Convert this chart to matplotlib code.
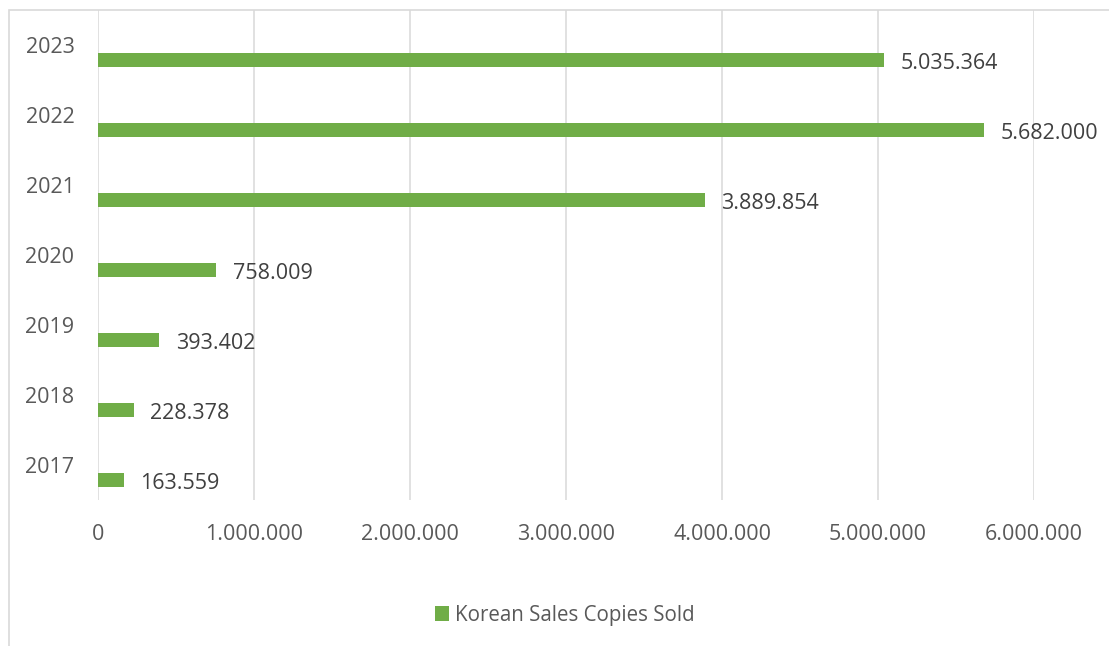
import matplotlib
matplotlib.use("Agg")
import matplotlib.pyplot as plt
from matplotlib.patches import Rectangle, Patch
from matplotlib.ticker import FuncFormatter

years = ["2017", "2018", "2019", "2020", "2021", "2022", "2023"]
copies_sold = [163559, 228378, 393402, 758009, 3889854, 5682000, 5035364]
series_name = "Korean Sales Copies Sold"
x_ticks = [0, 1000000, 2000000, 3000000, 4000000, 5000000, 6000000]

BAR_COLOR = "#70AD47"
GRID_COLOR = "#D9D9D9"
TICK_COLOR = "#595959"
LABEL_COLOR = "#404040"
FONT = ["Open Sans", "DejaVu Sans"]

plt.rcParams["font.family"] = FONT


def dotted(v, _pos=None):
    return f"{int(round(v)):,}".replace(",", ".")


W, H = 1109, 646
fig = plt.figure(figsize=(W / 100, H / 100), dpi=100)
fig.patch.set_facecolor("white")

# Chart-area frame (extends past right and bottom edges)
fig.patches.append(Rectangle((9 / W, -0.1), 1.2, 1 - 10 / H + 0.1,
                             transform=fig.transFigure, fill=False,
                             edgecolor="#D9D9D9", linewidth=1.2))

ax = fig.add_axes([98 / W, 1 - 500 / H, (1034 - 98) / W, (500 - 10) / H])

positions = list(range(len(years)))
bar_pos = [p - 0.214 for p in positions]
ax.barh(bar_pos, copies_sold, height=0.2, color=BAR_COLOR, zorder=3)

for y, v in zip(bar_pos, copies_sold):
    ax.annotate(dotted(v), xy=(v, y), xytext=(12, -2.2), textcoords="offset points",
                ha="left", va="center", fontsize=15.5, color=LABEL_COLOR)

ax.set_xlim(0, 6000000)
ax.set_ylim(-0.5, len(years) - 0.5)
ax.set_xticks(x_ticks)
ax.xaxis.set_major_formatter(FuncFormatter(dotted))
ax.set_yticks(positions)
ax.set_yticklabels(years)

ax.grid(axis="x", color=GRID_COLOR, linewidth=1.1, zorder=0)
ax.grid(axis="y", visible=False)
for s in ax.spines.values():
    s.set_visible(False)
ax.tick_params(axis="both", length=0, labelsize=15.5, labelcolor=TICK_COLOR)
ax.tick_params(axis="x", pad=17.5)
ax.tick_params(axis="y", pad=17)

handle = Patch(facecolor=BAR_COLOR, edgecolor="none")
fig.legend([handle], [series_name], loc="center",
           bbox_to_anchor=(565 / W, 1 - 615 / H), frameon=False,
           fontsize=14.8, labelcolor=TICK_COLOR, handlelength=0.7,
           handleheight=0.7, handletextpad=0.3)

fig.savefig("out.png", dpi=100)
